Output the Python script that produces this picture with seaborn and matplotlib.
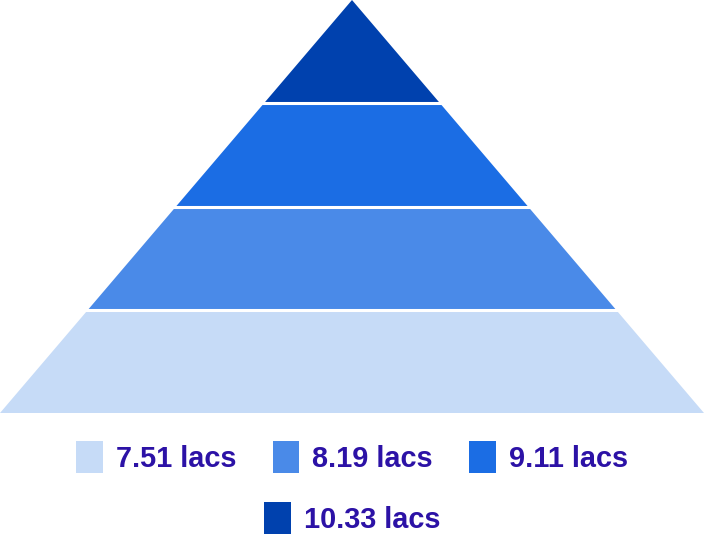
import matplotlib
matplotlib.use("Agg")
import matplotlib.pyplot as plt
from matplotlib.patches import Patch
import seaborn as sns

# ---- data ----
labels = ["7.51 lacs", "8.19 lacs", "9.11 lacs", "10.33 lacs"]   # bottom -> top
values = [7.51, 8.19, 9.11, 10.33]
colors = ["#c6dbf7", "#4a8ae8", "#1b6de4", "#0041ae"]
text_color = "#2c12a6"

sns.set_theme(style="white")
plt.rcParams["font.family"] = ["Liberation Sans", "DejaVu Sans"]

W, H = 704, 547
fig = plt.figure(figsize=(W / 100, H / 100), dpi=100)
ax = fig.add_axes([0, 0, 1, 1])
ax.set_xlim(0, W)
ax.set_ylim(H, 0)
ax.axis("off")

# pyramid geometry (pixel coordinates)
apex_x, apex_y = 352, 0
base_y, base_half = 413, 352
n = len(values)
layer_h = (base_y - apex_y) / n

def half_width(y):
    return base_half * (y - apex_y) / (base_y - apex_y)

for i, col in enumerate(colors):
    y_bot = base_y - i * layer_h
    y_top = y_bot - layer_h
    xs = [apex_x - half_width(y_bot), apex_x + half_width(y_bot),
          apex_x + half_width(y_top), apex_x - half_width(y_top)]
    ys = [y_bot, y_bot, y_top, y_top]
    ax.fill(xs, ys, color=col, linewidth=0, zorder=2)

# white separators between layers
for i in range(1, n):
    yb = base_y - i * layer_h
    ax.hlines(yb, 0, W, colors="white", linewidth=2.2, zorder=3)

handles = [Patch(facecolor=c, edgecolor="none") for c in colors]
fs = 20.8
common = dict(frameon=False, handlelength=0.93, handleheight=1.3,
              handletextpad=0.45, columnspacing=1.25, borderpad=0, borderaxespad=0,
              labelcolor=text_color, prop={"weight": "bold", "size": fs})
leg1 = fig.legend(handles[:3], labels[:3], ncol=3, loc="center",
                  bbox_to_anchor=(0.5, 1 - 457 / H), **common)
leg2 = fig.legend(handles[3:], labels[3:], ncol=1, loc="center",
                  bbox_to_anchor=(0.5, 1 - 518 / H), **common)

fig.savefig("out.png", dpi=100)
